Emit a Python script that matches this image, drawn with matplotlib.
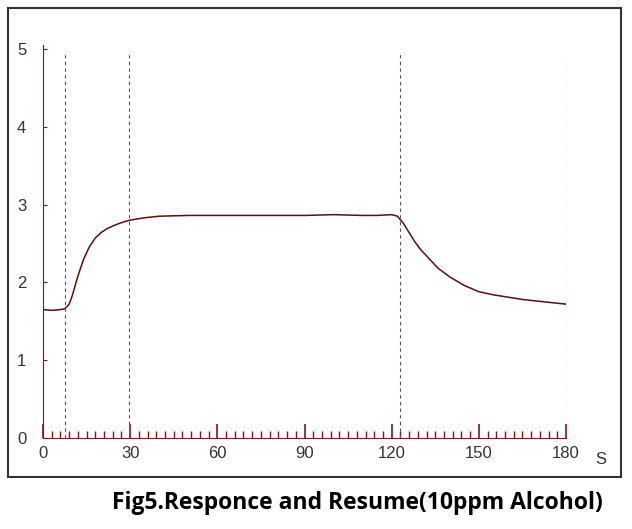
import matplotlib
matplotlib.use("Agg")
import matplotlib.pyplot as plt
from matplotlib.patches import Rectangle

# response curve (s, V)
t = [0, 3, 6, 7.5, 9, 10, 12, 14, 16, 18, 20, 22, 25, 28, 30, 35, 40, 50, 60,
     70, 80, 90, 100, 110, 115, 120, 122, 124, 126, 128, 130, 133, 136, 140,
     145, 150, 155, 160, 165, 170, 175, 180]
v = [1.65, 1.64, 1.65, 1.66, 1.72, 1.82, 2.08, 2.30, 2.46, 2.57, 2.64, 2.69,
     2.74, 2.78, 2.80, 2.83, 2.85, 2.86, 2.86, 2.86, 2.86, 2.86, 2.87, 2.86,
     2.86, 2.87, 2.85, 2.76, 2.64, 2.52, 2.42, 2.30, 2.18, 2.07, 1.96, 1.88,
     1.84, 1.81, 1.78, 1.76, 1.74, 1.72]
markers = [7.6, 29.6, 123, 180]
xticks = [0, 30, 60, 90, 120, 150, 180]
yticks = [0, 1, 2, 3, 4, 5]

axis_col = "#7a1a1a"
line_col = "#5a1010"

fig = plt.figure(figsize=(6.32, 5.29), dpi=100)
fig.add_artist(Rectangle((8 / 632, 1 - 477 / 529), 613 / 632, 469 / 529,
                         transform=fig.transFigure, fill=False,
                         edgecolor="#333333", linewidth=1.5))
ax = fig.add_axes([43 / 632, 91 / 529, 523 / 632, 393 / 529])

ax.plot(t, v, color=line_col, linewidth=1.1)
for m in markers:
    ax.plot([m, m], [0, 4.95], color="#555555", linestyle=(0, (3, 3)),
            linewidth=0.8)

ax.set_xlim(0, 180)
ax.set_ylim(0, 5.05)
ax.set_xticks(xticks)
ax.set_xticks(range(0, 181, 3), minor=True)
ax.set_yticks(yticks)
for s in ["top", "right"]:
    ax.spines[s].set_visible(False)
for s in ["left", "bottom"]:
    ax.spines[s].set_color(axis_col)
ax.tick_params(axis="x", which="major", direction="in", length=10,
               color=axis_col, width=1.2, labelsize=12, pad=6)
ax.tick_params(axis="x", which="minor", direction="in", length=5,
               color=axis_col, width=1)
ax.tick_params(axis="y", direction="in", length=3, color=axis_col,
               labelsize=12, pad=12)
for lab in ax.get_xticklabels() + ax.get_yticklabels():
    lab.set_color("#333333")
    lab.set_fontfamily("Liberation Sans")
ax.text(190, -0.27, "S", fontsize=12, color="#333333", va="center",
        family="Liberation Sans", clip_on=False)

fig.text(112 / 632, 1 - 503 / 529, "Fig5.Responce and Resume(10ppm Alcohol)",
         fontsize=16.5, fontweight="bold", family="Open Sans", va="center")

fig.savefig("out.png", dpi=100)
